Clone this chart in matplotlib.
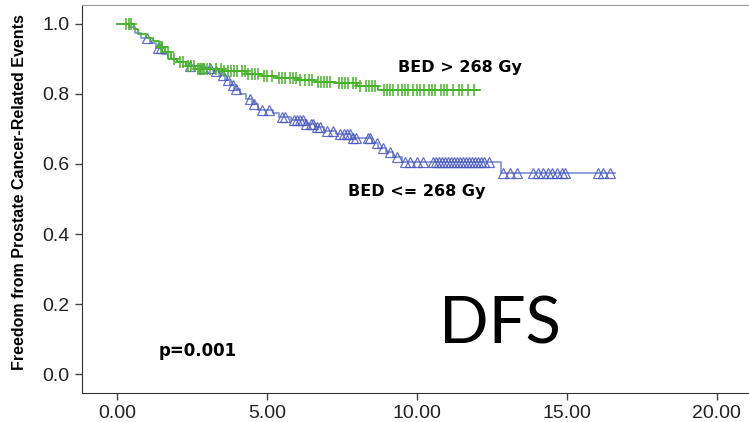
import numpy as np
import matplotlib
matplotlib.use("Agg")
import matplotlib.pyplot as plt
from matplotlib.ticker import FormatStrFormatter

# Kaplan-Meier step points (time in years, survival)
hi_times = [0.0, 0.55, 0.7, 0.95, 1.2, 1.4, 1.6, 1.8, 2.0, 2.3, 2.6, 3.5, 4.3, 4.8,
            5.3, 6.0, 6.6, 7.3, 8.0, 8.7, 12.1]
hi_surv = [1.0, 0.985, 0.97, 0.96, 0.95, 0.935, 0.92, 0.90, 0.89, 0.88, 0.87, 0.865,
           0.858, 0.852, 0.846, 0.84, 0.835, 0.83, 0.822, 0.812, 0.812]
hi_censor = [0.3, 0.4, 0.45, 1.45, 1.5, 1.7, 1.9, 2.1, 2.2, 2.35, 2.45, 2.55, 2.7, 2.75,
             2.8, 2.85, 2.9, 3.0, 3.1, 3.3, 3.45, 3.55, 3.7, 3.8, 3.9, 4.0, 4.15, 4.25,
             4.35, 4.5, 4.6, 4.7, 4.9, 5.0, 5.15, 5.4, 5.5, 5.6, 5.75, 5.85, 5.95, 6.1,
             6.25, 6.4, 6.5, 6.7, 6.8, 6.9, 7.0, 7.1, 7.4, 7.5, 7.6, 7.7, 7.85, 7.95,
             8.1, 8.3, 8.4, 8.5, 8.6, 8.9, 9.0, 9.1, 9.2, 9.35, 9.5, 9.6, 9.7, 9.85,
             10.0, 10.1, 10.25, 10.4, 10.5, 10.6, 10.8, 10.9, 11.0, 11.2, 11.4, 11.5,
             11.7, 11.9]

lo_times = [0.0, 0.4, 0.6, 0.8, 1.1, 1.3, 1.5, 1.7, 2.0, 2.3, 2.8, 3.2, 3.4, 3.6, 3.75,
            3.9, 4.1, 4.3, 4.5, 4.7, 5.2, 5.4, 5.8, 6.3, 6.6, 6.9, 7.3, 7.8, 8.5, 8.7,
            8.95, 9.2, 9.5, 12.8, 16.6]
lo_surv = [1.0, 0.99, 0.975, 0.96, 0.945, 0.93, 0.915, 0.90, 0.89, 0.88, 0.875, 0.865,
           0.855, 0.84, 0.825, 0.815, 0.80, 0.785, 0.77, 0.755, 0.745, 0.735, 0.725,
           0.715, 0.705, 0.695, 0.685, 0.675, 0.66, 0.645, 0.635, 0.62, 0.605, 0.573,
           0.573]
lo_censor = [0.99, 1.37, 1.45, 2.43, 2.87, 3.1, 3.3, 3.54, 3.7, 3.85, 3.96, 4.43, 4.55,
             4.82, 5.05, 5.49, 5.6, 5.9, 6.0, 6.1, 6.2, 6.3, 6.45, 6.54, 6.66, 6.77,
             6.99, 7.21, 7.43, 7.55, 7.65, 7.75, 7.85, 7.95, 8.37, 8.43, 8.66, 8.88,
             9.1, 9.32, 9.6, 9.77, 9.99, 10.2, 10.55, 10.65, 10.75, 10.85, 10.95, 11.05,
             11.15, 11.25, 11.35, 11.45, 11.55, 11.65, 11.75, 11.85, 11.95, 12.05, 12.15,
             12.25, 12.4, 12.87, 13.1, 13.33, 13.87, 14.03, 14.2, 14.37, 14.5, 14.67,
             14.83, 14.93, 16.03, 16.2, 16.43]

x_ticks = [0, 5, 10, 15, 20]
y_ticks = [0.0, 0.2, 0.4, 0.6, 0.8, 1.0]

green = '#46b42a'
blue_line = '#8797d9'
blue_mark = '#4858bd'


def surv_at(times, surv, t):
    idx = np.searchsorted(times, t, side='right') - 1
    return np.asarray(surv)[idx]


fig = plt.figure(figsize=(7.49, 4.22), dpi=100)
ax = fig.add_axes([82 / 749, 29 / 422, 667 / 749, 388 / 422])

ax.step(lo_times, lo_surv, where='post', color=blue_line, lw=1.3, zorder=2)
ax.plot(lo_censor, surv_at(lo_times, lo_surv, lo_censor), ls='none', marker='^',
        ms=6.5, mfc='none', mec=blue_mark, mew=0.9, alpha=0.85, zorder=3)

ax.step(hi_times, hi_surv, where='post', color=green, lw=1.3, zorder=4)
ax.plot(hi_censor, surv_at(hi_times, hi_surv, hi_censor), ls='none', marker='+',
        ms=8, mec=green, mew=1.1, zorder=5)

ax.set_xlim(-1.17, 21.07)
ax.set_ylim(-0.054, 1.054)
ax.set_xticks(x_ticks)
ax.set_yticks(y_ticks)
ax.xaxis.set_major_formatter(FormatStrFormatter('%.2f'))
ax.yaxis.set_major_formatter(FormatStrFormatter('%.1f'))
ax.tick_params(direction='out', length=5, width=1, color='#444444',
               labelsize=14, labelcolor='#222222', pad=4)
for lab in ax.get_xticklabels() + ax.get_yticklabels():
    lab.set_family('Liberation Sans')

ax.spines['right'].set_visible(False)
ax.spines['top'].set_color('#999999')
ax.spines['left'].set_color('#333333')
ax.spines['bottom'].set_color('#333333')

ax.set_ylabel('Freedom from Prostate Cancer-Related Events', fontsize=11.5,
              fontweight='bold', family='Liberation Sans')
ax.yaxis.set_label_coords(-0.082, 0.518)

ax.text(9.35, 0.875, 'BED > 268 Gy', fontsize=11.5, fontweight='bold',
        family='DejaVu Sans', va='center', ha='left')
ax.text(7.7, 0.52, 'BED <= 268 Gy', fontsize=11.5, fontweight='bold',
        family='DejaVu Sans', va='center', ha='left')
ax.text(1.37, 0.066, 'p=0.001', fontsize=12, fontweight='bold',
        family='DejaVu Sans', va='center', ha='left')
ax.text(12.75, 0.14, 'DFS', fontsize=47, family='Lato', va='center', ha='center')

fig.savefig('out.png', dpi=100)
